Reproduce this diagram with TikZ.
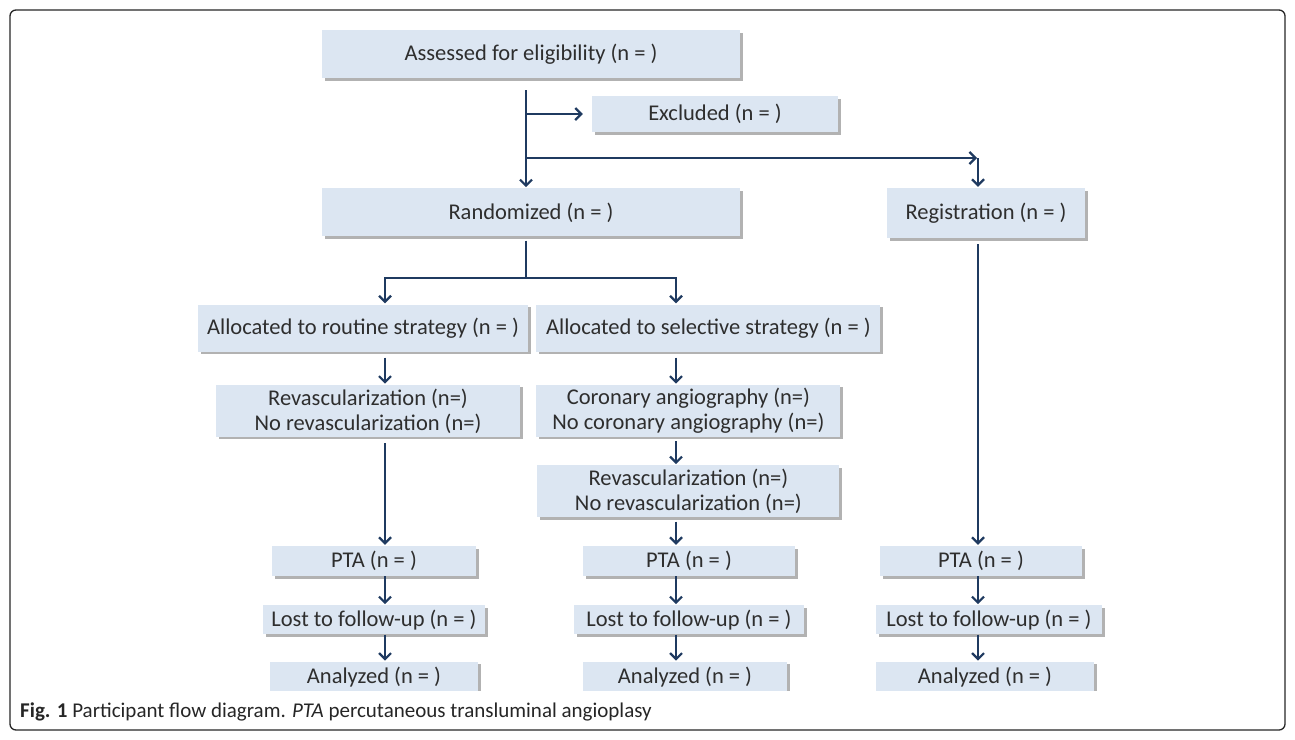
\documentclass[tikz,border=0pt]{standalone}
\usepackage{fontspec}
\setmainfont{Carlito}
\usetikzlibrary{positioning,shadows,arrows.meta}
\definecolor{boxblue}{HTML}{DCE6F2}
\definecolor{linkblue}{HTML}{1F3A60}
\definecolor{txtgray}{HTML}{2E2E2E}
\tikzstyle{box} = [rectangle, fill=boxblue, text=txtgray, font=\fontsize{22.5}{25}\selectfont, align=center, inner sep=0pt, drop shadow={shadow xshift=2.5pt, shadow yshift=-2.5pt, fill=black!55, opacity=0.55}]
\tikzstyle{link} = [draw=linkblue, line width=2.2pt]
\tikzstyle{arrow} = [link, -{Straight Barb[length=6pt,width=12pt]}, shorten >=1pt]

\begin{document}
\begin{tikzpicture}[x=1pt, y=-1pt]
    \useasboundingbox (0,0) rectangle (1295,739);
    \draw [line width=1.3pt, black!85, rounded corners=6pt] (10,10) rectangle (1285,730);

    \node (assess) [box, minimum width=418pt, minimum height=48pt] at (531,54) {Assessed for eligibility (n = )};
    \node (excl) [box, minimum width=246pt, minimum height=36pt] at (715,114) {Excluded (n = )};
    \node (rand) [box, minimum width=418pt, minimum height=48pt, below=110pt of assess] {Randomized (n = )};
    \node (reg) [box, minimum width=198pt, minimum height=50pt] at (986,213) {Registration (n = )};
    \node (routine) [box, minimum width=330pt, minimum height=47pt] at (363,328) {Allocated to routine strategy (n = )};
    \node (select) [box, minimum width=344pt, minimum height=47pt, right=8pt of routine] {Allocated to selective strategy (n = )};
    \node (revascL) [box, minimum width=304pt, minimum height=52pt, below=33pt of routine, xshift=5pt] {Revascularization (n=)\\No revascularization (n=)};
    \node (coro) [box, minimum width=304pt, minimum height=52pt, below=33pt of select, xshift=-20pt] {Coronary angiography (n=)\\No coronary angiography (n=)};
    \node (revascM) [box, minimum width=302pt, minimum height=52pt, below=28pt of coro] {Revascularization (n=)\\No revascularization (n=)};

    \node (ptaL) [box, minimum width=204pt, minimum height=30pt] at (374,561) {PTA (n = )};
    \node (lostL) [box, minimum width=222pt, minimum height=29pt, below=29pt of ptaL] {Lost to follow-up (n = )};
    \node (ptaM) [box, minimum width=212pt, minimum height=30pt] at (689,561) {PTA (n = )};
    \node (lostM) [box, minimum width=230pt, minimum height=29pt, below=29pt of ptaM] {Lost to follow-up (n = )};
    \node (ptaR) [box, minimum width=202pt, minimum height=30pt] at (981,561) {PTA (n = )};
    \node (lostR) [box, minimum width=226pt, minimum height=29pt, below=29pt of ptaR, xshift=8pt] {Lost to follow-up (n = )};

    % last row is cut off by the caption
    \begin{scope}
        \clip (0,0) rectangle (1295,690);
        \node (anaL) [box, minimum width=208pt, minimum height=30pt, below=27pt of lostL] {Analyzed (n = )};
        \node (anaM) [box, minimum width=204pt, minimum height=30pt, below=27pt of lostM, xshift=-4pt] {Analyzed (n = )};
        \node (anaR) [box, minimum width=218pt, minimum height=30pt, below=27pt of lostR, xshift=-4pt] {Analyzed (n = )};
    \end{scope}

    \coordinate (colL) at (385,0);
    \coordinate (colM) at (676,0);
    \coordinate (colR) at (978,0);
    \coordinate (trunk) at (526,90);
    \coordinate (split) at (526,158);
    \coordinate (turn) at (978,158);
    \coordinate (fork) at (526,278);

    \draw [arrow] (trunk) -- (trunk |- rand.north);
    \draw [arrow, shorten >=9pt] (trunk |- excl) -- (excl.west);
    \draw [arrow] (split) -- (turn);
    \draw [arrow] (turn) -- (colR |- reg.north);

    \draw [link, shorten <=4pt] (trunk |- rand.south) -- (fork);
    \draw [arrow] (fork) -| (colL |- routine.north);
    \draw [arrow] (fork) -| (colM |- select.north);

    \draw [arrow, shorten <=6pt] (colL |- routine.south) -- (colL |- revascL.north);
    \draw [arrow, shorten <=6pt] (colM |- select.south) -- (colM |- coro.north);
    \draw [arrow, shorten <=4pt] (colM |- coro.south) -- (colM |- revascM.north);
    \draw [arrow, shorten <=6pt] (colL |- revascL.south) -- (colL |- ptaL.north);
    \draw [arrow, shorten <=4pt] (colM |- revascM.south) -- (colM |- ptaM.north);
    \draw [arrow, shorten <=6pt] (colR |- reg.south) -- (colR |- ptaR.north);

    \foreach \c in {L,M,R} {
        \draw [arrow] (col\c |- pta\c.south) -- (col\c |- lost\c.north);
        \draw [arrow] (col\c |- lost\c.south) -- (col\c |- ana\c.north);
    }

    \node (caption) [anchor=west, text=black!85, font=\fontsize{21}{24}\selectfont, inner sep=0pt] at (20,712) {\textbf{Fig. 1} Participant flow diagram. \textit{PTA} percutaneous transluminal angioplasy};
\end{tikzpicture}
\end{document}
